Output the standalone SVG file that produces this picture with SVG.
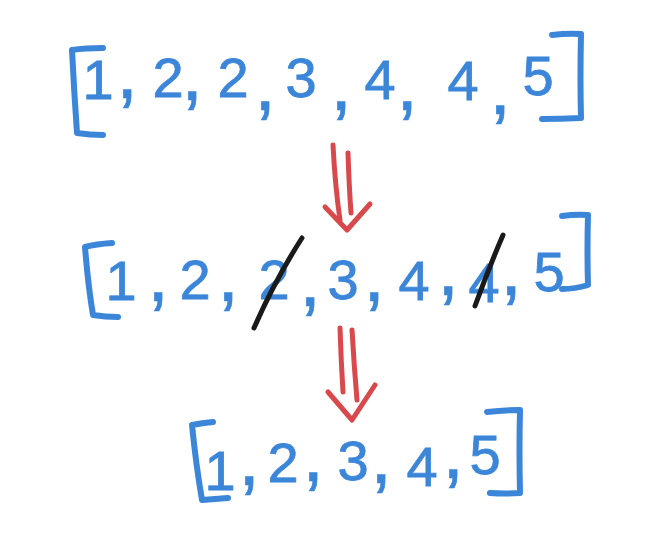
<svg xmlns="http://www.w3.org/2000/svg" width="651" height="538" viewBox="0 0 651 538">
<style>
.d{font-family:"Liberation Sans",Arial,sans-serif;font-size:56px;fill:#3b86d9;stroke:#3b86d9;stroke-width:0.8;text-anchor:middle}
.c{font-family:"Liberation Sans",Arial,sans-serif;font-size:80px;fill:#3b86d9;stroke:#3b86d9;stroke-width:0.6;text-anchor:middle}
.br{fill:none;stroke:#3b86d9;stroke-width:6;stroke-linecap:round;stroke-linejoin:round}
.ar{fill:none;stroke:#d9484a;stroke-width:5;stroke-linecap:round;stroke-linejoin:round}
.st{fill:none;stroke:#1a1a1a;stroke-width:5;stroke-linecap:round}
</style>
<rect width="651" height="538" fill="#ffffff"/>
<g id="row1">
<path class="br" d="M103,48 Q85,48 72,50 Q74,90 77,133 Q90,135 103,135"/>
<path class="br" d="M552,35 Q568,33 581,34 Q580,80 581,118 Q560,119 542,119"/>
<text class="d" x="98" y="99">1</text>
<text class="c" x="127" y="98">,</text>
<text class="d" x="168" y="97">2</text>
<text class="c" x="192" y="100">,</text>
<text class="d" x="233" y="97">2</text>
<text class="c" x="265" y="110">,</text>
<text class="d" x="301" y="97">3</text>
<text class="c" x="341" y="110">,</text>
<text class="d" x="380" y="99">4</text>
<text class="c" x="407" y="110">,</text>
<text class="d" x="463" y="100">4</text>
<text class="c" x="500" y="114">,</text>
<text class="d" x="538" y="95">5</text>
</g>
<g id="row2">
<path class="br" d="M112,243 Q96,244 85,247 Q88,285 93,315 Q105,317 118,317"/>
<path class="br" d="M562,216 Q576,214 588,215 Q587,250 588,285 Q575,289 562,289"/>
<text class="d" x="121" y="300">1</text>
<text class="c" x="158" y="301">,</text>
<text class="d" x="195" y="299">2</text>
<text class="c" x="228" y="301">,</text>
<text class="d" x="274" y="299">2</text>
<text class="c" x="310" y="306">,</text>
<text class="d" x="343" y="299">3</text>
<text class="c" x="374" y="301">,</text>
<text class="d" x="414" y="300">4</text>
<text class="c" x="448" y="295">,</text>
<text class="d" x="484" y="302">4</text>
<text class="c" x="511" y="295">,</text>
<text class="d" x="549" y="291">5</text>
<path class="st" d="M302,238 Q275,280 254,328"/>
<path class="st" d="M503,235 Q488,270 475,306"/>
</g>
<g id="row3">
<path class="br" d="M213,422 Q202,423 192,425 Q196,465 202,500 Q215,499 228,498"/>
<path class="br" d="M487,412 Q503,410 520,410 Q519,450 520,493 Q505,494 490,493"/>
<text class="d" x="220" y="490">1</text>
<text class="c" x="249" y="485">,</text>
<text class="d" x="283" y="482">2</text>
<text class="c" x="313" y="481">,</text>
<text class="d" x="353" y="480">3</text>
<text class="c" x="381" y="483">,</text>
<text class="d" x="422" y="486">4</text>
<text class="c" x="453" y="478">,</text>
<text class="d" x="485" y="474">5</text>
</g>
<g id="connectors">
<path class="ar" d="M333,145 Q335,185 340,220 M348,153 Q349,185 351,213 M325,207 L347,230 L370,204"/>
<path class="ar" d="M340,328 Q341,360 343,392 M352,330 Q354,365 357,400 M328,392 L352,420 L375,385"/>
</g>
</svg>
